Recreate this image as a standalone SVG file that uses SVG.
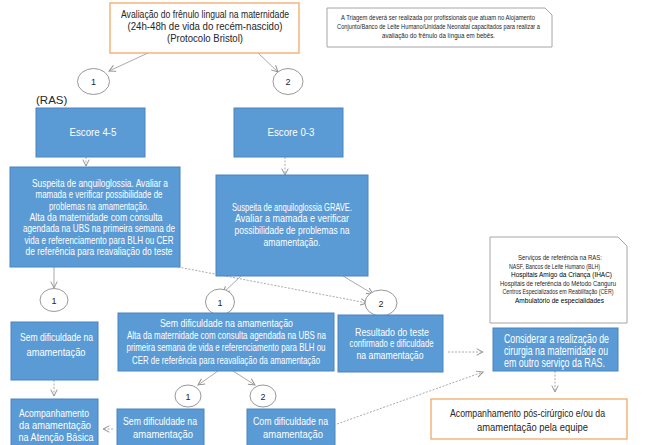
<svg xmlns="http://www.w3.org/2000/svg" width="645" height="445" viewBox="0 0 645 445">
<style>
text{font-family:"Liberation Sans",Arial,sans-serif;text-anchor:middle}
.b{fill:#5B9BD5;stroke:#4A84BF;stroke-width:1}
.o{fill:#fff;stroke:#F2A868;stroke-width:1.3}
.g{fill:#fff;stroke:#A6A6A6;stroke-width:1}
.e{fill:#fff;stroke:#8C8C8C;stroke-width:0.9}
.c{fill:none;stroke:#A0A0A0;stroke-width:0.9;marker-end:url(#ah)}
.d{stroke-dasharray:2 1.5}
.w{fill:#fff;font-size:10.5px}
.k{fill:#262626;font-size:11px}
.s{fill:#262626;font-size:6.6px}
.n{fill:#262626;font-size:9px}
</style>
<defs>
<marker id="ah" viewBox="0 0 10 10" refX="9" refY="5" markerWidth="8" markerHeight="8" markerUnits="userSpaceOnUse" orient="auto">
<path d="M1,1 L9,5 L1,9" fill="none" stroke="#909090" stroke-width="1.2"/>
</marker>
</defs>
<rect width="645" height="445" fill="#fff"/>

<g id="connectors">
<line class="c" x1="148" y1="53" x2="109" y2="71"/>
<line class="c" x1="258" y1="53" x2="278" y2="72"/>
<line class="c d" x1="86" y1="157" x2="86" y2="166"/>
<line class="c d" x1="285" y1="157" x2="285" y2="175"/>
<line class="c" x1="54" y1="267" x2="54" y2="288"/>
<line class="c d" x1="178" y1="267" x2="367" y2="303"/>
<line class="c" x1="241" y1="276" x2="223" y2="293"/>
<line class="c" x1="343" y1="276" x2="373" y2="294"/>
<line class="c d" x1="54" y1="380" x2="54" y2="396"/>
<line class="c" x1="218" y1="371" x2="198" y2="385"/>
<line class="c" x1="233" y1="371" x2="255" y2="385"/>
<line class="c d" x1="113" y1="429" x2="103" y2="429"/>
<line class="c d" x1="448" y1="352" x2="483" y2="352"/>
<line class="c d" x1="337" y1="424" x2="483" y2="372"/>
<line class="c d" x1="555" y1="371" x2="555" y2="392"/>
</g>

<g id="avaliacao">
<rect class="o" x="110" y="3" width="189" height="50"/>
<text class="k" transform="translate(205,18) scale(.8,1)" textLength="210" lengthAdjust="spacingAndGlyphs">Avaliação do frênulo lingual na maternidade</text>
<text class="k" transform="translate(205,30) scale(.8,1)" textLength="193.75" lengthAdjust="spacingAndGlyphs">(24h-48h de vida do recém-nascido)</text>
<text class="k" transform="translate(205,42) scale(.8,1)" textLength="95" lengthAdjust="spacingAndGlyphs">(Protocolo Bristol)</text>
</g>

<g id="nota-triagem">
<path class="g" d="M327,8 H545 L552,15 V47 H327 Z"/>
<text class="s" transform="translate(438,20) scale(.8,1)" textLength="242.5" lengthAdjust="spacingAndGlyphs">A Triagem deverá ser realizada por profissionais que atuam no Alojamento</text>
<text class="s" transform="translate(438.5,29) scale(.8,1)" textLength="253.75" lengthAdjust="spacingAndGlyphs">Conjunto/Banco de Leite Humano/Unidade Neonatal capacitados para realizar a</text>
<text class="s" transform="translate(438.5,38) scale(.8,1)" textLength="141.25" lengthAdjust="spacingAndGlyphs">avaliação do frênulo da língua em bebês.</text>
</g>

<g id="op1-top">
<ellipse class="e" cx="93.5" cy="81.5" rx="16" ry="13"/>
<text class="n" x="93.5" y="85">1</text>
</g>
<g id="op2-top">
<ellipse class="e" cx="288" cy="81.5" rx="15" ry="13"/>
<text class="n" x="288" y="85">2</text>
</g>

<g id="ras-label">
<text x="36" y="104" style="text-anchor:start;font-size:11.5px;fill:#262626">(RAS)</text>
</g>

<g id="escore45">
<rect class="b" x="36" y="108" width="109" height="49"/>
<text class="w" style="font-size:11.5px" transform="translate(93,136) scale(.8,1)" textLength="58.75" lengthAdjust="spacingAndGlyphs">Escore 4-5</text>
</g>
<g id="escore03">
<rect class="b" x="234" y="108" width="109" height="49"/>
<text class="w" style="font-size:11.5px" transform="translate(291,136) scale(.8,1)" textLength="58.75" lengthAdjust="spacingAndGlyphs">Escore 0-3</text>
</g>

<g id="suspeita-1">
<rect class="b" x="10" y="167" width="170" height="100"/>
<text class="w" transform="translate(100,187) scale(.8,1)" textLength="170" lengthAdjust="spacingAndGlyphs">Suspeita de anquiloglossia. Avaliar a</text>
<text class="w" transform="translate(99,198) scale(.8,1)" textLength="158.75" lengthAdjust="spacingAndGlyphs">mamada e verificar possibilidade de</text>
<text class="w" transform="translate(99,210) scale(.8,1)" textLength="125" lengthAdjust="spacingAndGlyphs">problemas na amamentação.</text>
<text class="w" transform="translate(96,221) scale(.8,1)" textLength="166.25" lengthAdjust="spacingAndGlyphs">Alta da maternidade com consulta</text>
<text class="w" transform="translate(99,232) scale(.8,1)" textLength="190" lengthAdjust="spacingAndGlyphs">agendada na UBS na primeira semana de</text>
<text class="w" transform="translate(99,244) scale(.8,1)" textLength="186.25" lengthAdjust="spacingAndGlyphs">vida e referenciamento para  BLH ou CER</text>
<text class="w" transform="translate(99,255) scale(.8,1)" textLength="183.75" lengthAdjust="spacingAndGlyphs">de referência para reavaliação do teste</text>
</g>

<g id="suspeita-grave">
<rect class="b" x="216" y="175" width="152" height="101"/>
<text class="w" transform="translate(292,211) scale(.8,1)" textLength="150" lengthAdjust="spacingAndGlyphs">Suspeita de anquiloglossia GRAVE.</text>
<text class="w" transform="translate(292,222) scale(.8,1)" textLength="142.5" lengthAdjust="spacingAndGlyphs">Avaliar a mamada e verificar</text>
<text class="w" transform="translate(292,234) scale(.8,1)" textLength="143.75" lengthAdjust="spacingAndGlyphs">possibilidade de problemas na</text>
<text class="w" transform="translate(292,246) scale(.8,1)" textLength="71.25" lengthAdjust="spacingAndGlyphs">amamentação.</text>
</g>

<g id="servicos-ras">
<path class="g" d="M490,237 H618 L627,246 V323 H490 Z"/>
<text class="s" style="font-size:7px" transform="translate(560,260) scale(.8,1)" textLength="105" lengthAdjust="spacingAndGlyphs">Serviços de referência na RAS:</text>
<text class="s" style="font-size:7px" transform="translate(554.5,268.5) scale(.8,1)" textLength="113.75" lengthAdjust="spacingAndGlyphs">NASF, Bancos de Leite Humano (BLH)</text>
<text class="s" style="font-size:7.3px;fill:#000" transform="translate(561.5,277) scale(.8,1)" textLength="126.25" lengthAdjust="spacingAndGlyphs">Hospitais Amigo da Criança (IHAC)</text>
<text class="s" style="font-size:7px" transform="translate(558,285.5) scale(.8,1)" textLength="145" lengthAdjust="spacingAndGlyphs">Hospitais de referência do Método Canguru</text>
<text class="s" style="font-size:7px" transform="translate(558,294) scale(.8,1)" textLength="138.75" lengthAdjust="spacingAndGlyphs">Centros Especializados em Reabilitação (CER)</text>
<text class="s" style="font-size:7.3px;fill:#000" transform="translate(559.5,302.5) scale(.8,1)" textLength="111.25" lengthAdjust="spacingAndGlyphs">Ambulatório de especialidades</text>
</g>

<g id="op1-left">
<ellipse class="e" cx="54" cy="300" rx="14" ry="11.5"/>
<text class="n" x="54" y="303.5">1</text>
</g>
<g id="op1-mid">
<ellipse class="e" cx="220" cy="302" rx="14.5" ry="13"/>
<text class="n" x="220" y="305.5">1</text>
</g>
<g id="op2-mid">
<ellipse class="e" cx="381" cy="303" rx="16" ry="13"/>
<text class="n" x="381" y="306.5">2</text>
</g>

<g id="sem-dificuldade-1">
<rect class="b" x="11" y="322" width="87" height="58"/>
<text class="w" style="font-size:11px" transform="translate(56.5,341) scale(.8,1)" textLength="91.25" lengthAdjust="spacingAndGlyphs">Sem dificuldade na</text>
<text class="w" style="font-size:11px" transform="translate(56,356) scale(.8,1)" textLength="73.75" lengthAdjust="spacingAndGlyphs">amamentação</text>
</g>

<g id="sem-dificuldade-alta">
<rect class="b" x="118" y="313" width="216" height="58"/>
<text class="w" style="font-size:11px" transform="translate(226.5,327) scale(.8,1)" textLength="166.25" lengthAdjust="spacingAndGlyphs">Sem dificuldade na amamentação</text>
<text class="w" style="font-size:11px" transform="translate(226.5,339) scale(.8,1)" textLength="248.75" lengthAdjust="spacingAndGlyphs">Alta da maternidade com consulta agendada na UBS na</text>
<text class="w" style="font-size:11px" transform="translate(226,351) scale(.8,1)" textLength="248.75" lengthAdjust="spacingAndGlyphs">primeira semana de vida e referenciamento para BLH ou</text>
<text class="w" style="font-size:11px" transform="translate(226,364) scale(.8,1)" textLength="235" lengthAdjust="spacingAndGlyphs">CER de referência para reavaliação da amamentação</text>
</g>

<g id="resultado">
<rect class="b" x="338" y="315" width="105" height="57"/>
<text class="w" style="font-size:11px" transform="translate(392,336) scale(.8,1)" textLength="92.5" lengthAdjust="spacingAndGlyphs">Resultado do teste</text>
<text class="w" style="font-size:11px" transform="translate(391.5,347) scale(.8,1)" textLength="105" lengthAdjust="spacingAndGlyphs">confirmado e dificuldade</text>
<text class="w" style="font-size:11px" transform="translate(390,359) scale(.8,1)" textLength="83.75" lengthAdjust="spacingAndGlyphs">na amamentação</text>
</g>

<g id="considerar">
<rect class="b" x="493" y="328" width="125" height="43"/>
<text class="w" style="font-size:12px" transform="translate(556.5,343) scale(.8,1)" textLength="131.25" lengthAdjust="spacingAndGlyphs">Considerar a realização de</text>
<text class="w" style="font-size:12px" transform="translate(556,355) scale(.8,1)" textLength="130" lengthAdjust="spacingAndGlyphs">cirurgia na maternidade ou</text>
<text class="w" style="font-size:12px" transform="translate(554.5,367) scale(.8,1)" textLength="126.25" lengthAdjust="spacingAndGlyphs">em outro serviço da RAS.</text>
</g>

<g id="op1-bottom">
<ellipse class="e" cx="188" cy="396" rx="13" ry="11"/>
<text class="n" x="188" y="399.5">1</text>
</g>
<g id="op2-bottom">
<ellipse class="e" cx="263" cy="396" rx="13" ry="11"/>
<text class="n" x="263" y="399.5">2</text>
</g>

<g id="acompanhamento-ab">
<rect class="b" x="11" y="399" width="87" height="50"/>
<text class="w" style="font-size:11.5px" transform="translate(54,417) scale(.8,1)" textLength="87.5" lengthAdjust="spacingAndGlyphs">Acompanhamento</text>
<text class="w" style="font-size:11.5px" transform="translate(55,429) scale(.8,1)" textLength="90" lengthAdjust="spacingAndGlyphs">da amamentação</text>
<text class="w" style="font-size:11.5px" transform="translate(56,441) scale(.8,1)" textLength="93.75" lengthAdjust="spacingAndGlyphs">na Atenção Básica</text>
</g>

<g id="sem-dificuldade-2">
<rect class="b" x="117" y="409" width="87" height="40"/>
<text class="w" style="font-size:11.5px" transform="translate(160,425) scale(.8,1)" textLength="92.5" lengthAdjust="spacingAndGlyphs">Sem dificuldade na</text>
<text class="w" style="font-size:11.5px" transform="translate(163,438) scale(.8,1)" textLength="75" lengthAdjust="spacingAndGlyphs">amamentação</text>
</g>

<g id="com-dificuldade">
<rect class="b" x="247" y="409" width="88" height="40"/>
<text class="w" style="font-size:11.5px" transform="translate(290.5,425) scale(.8,1)" textLength="93.75" lengthAdjust="spacingAndGlyphs">Com dificuldade na</text>
<text class="w" style="font-size:11.5px" transform="translate(293,438) scale(.8,1)" textLength="75" lengthAdjust="spacingAndGlyphs">amamentação</text>
</g>

<g id="acompanhamento-pos">
<rect class="o" x="431" y="399" width="196" height="40"/>
<text class="k" style="font-size:11.5px" transform="translate(527.5,417) scale(.8,1)" textLength="193.75" lengthAdjust="spacingAndGlyphs">Acompanhamento pós-cirúrgico e/ou da</text>
<text class="k" style="font-size:11.5px" transform="translate(532.5,431) scale(.8,1)" textLength="138.75" lengthAdjust="spacingAndGlyphs">amamentação pela equipe</text>
</g>
</svg>
